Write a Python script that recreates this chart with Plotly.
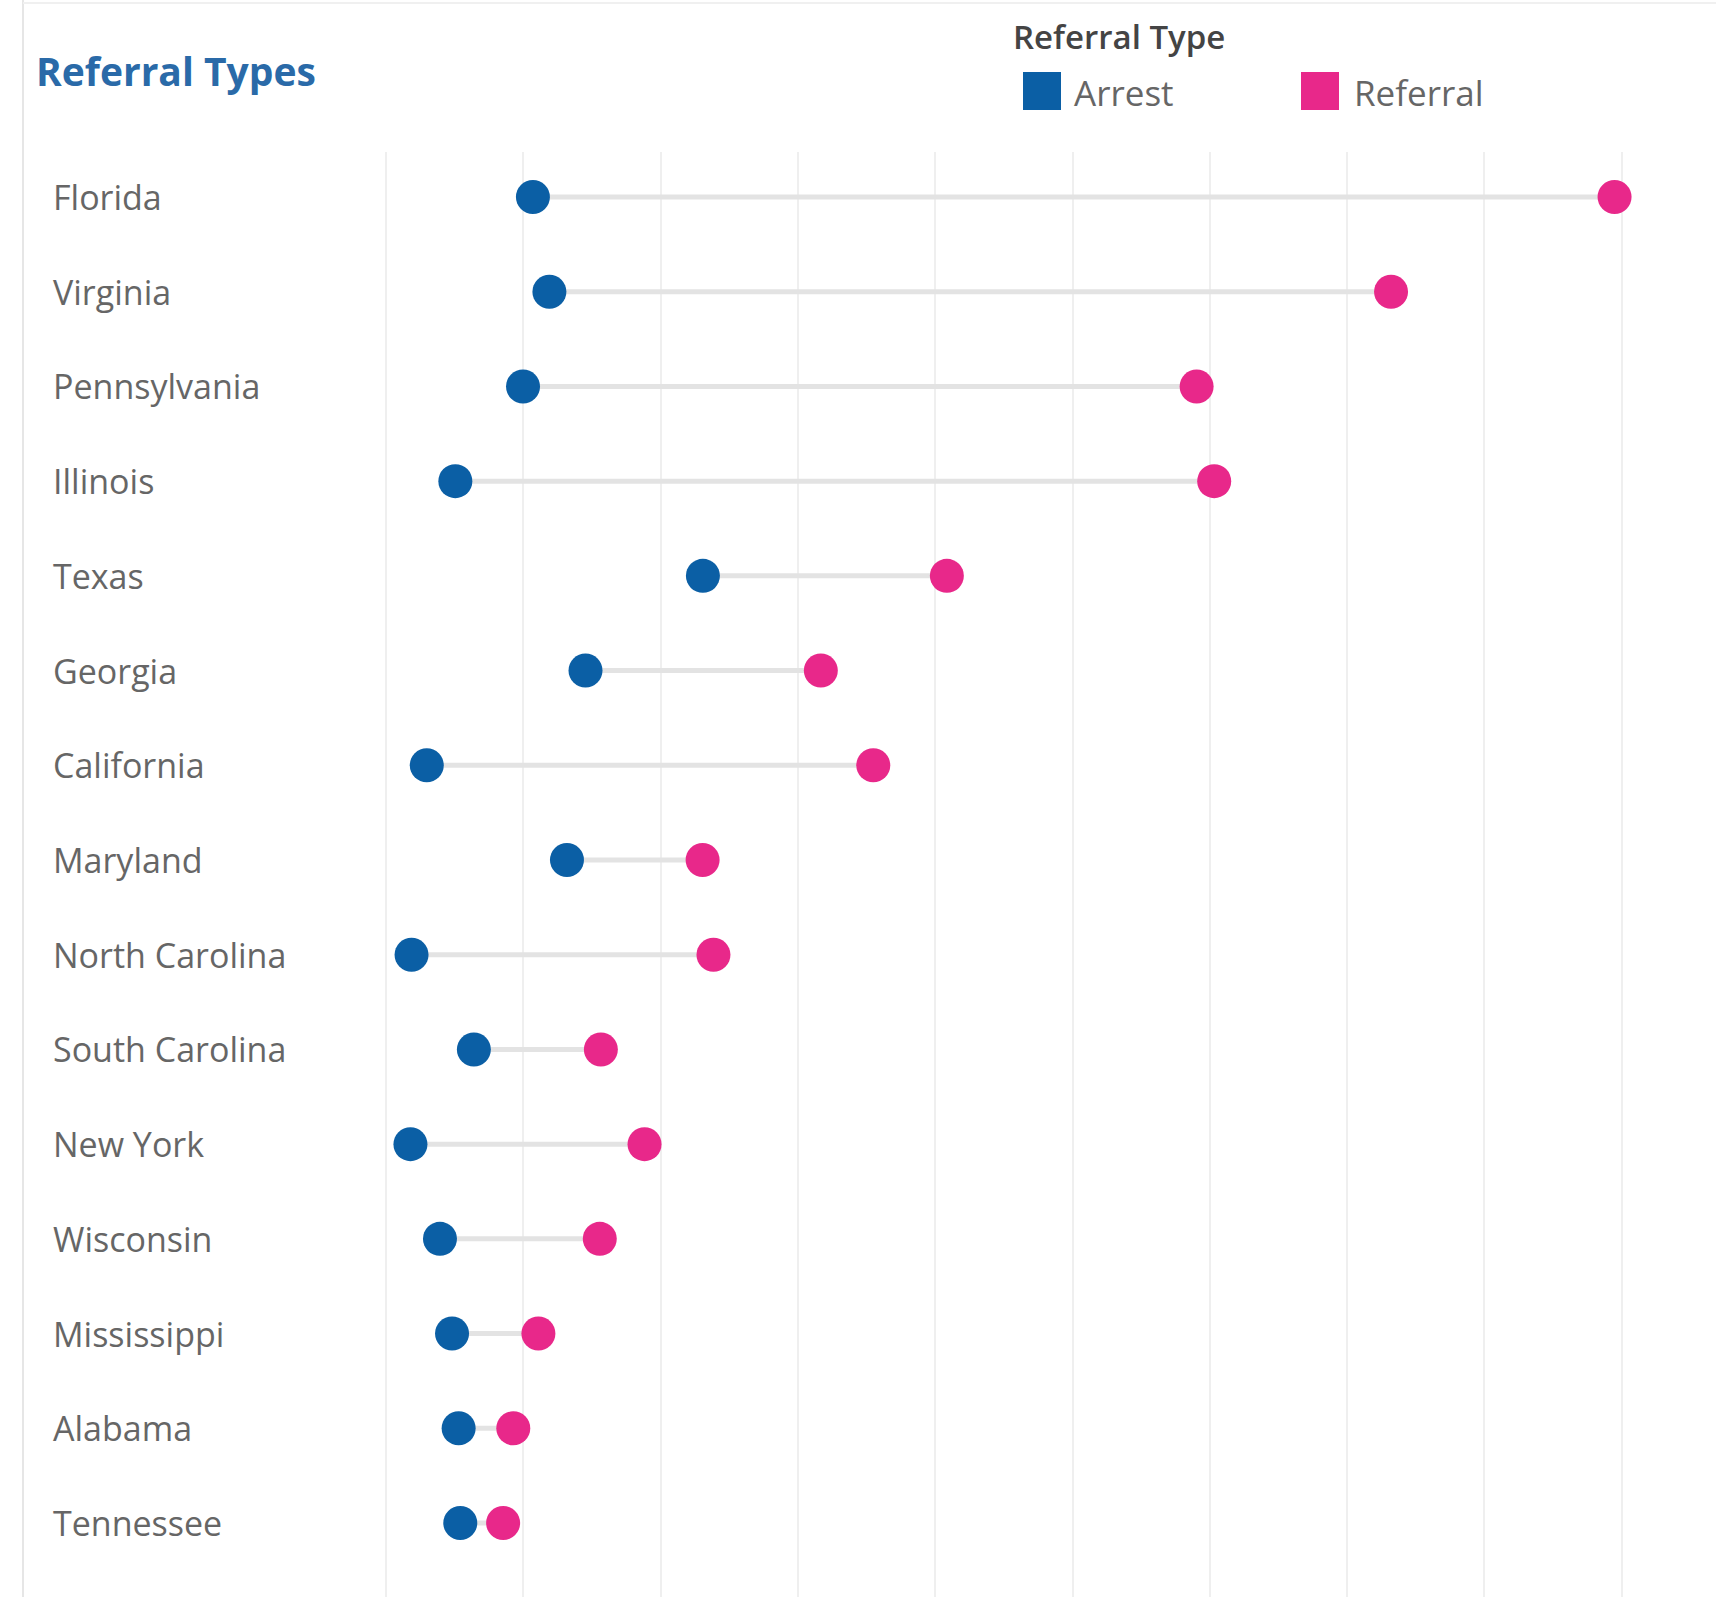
import plotly.graph_objects as go

states = ["Florida", "Virginia", "Pennsylvania", "Illinois", "Texas", "Georgia",
          "California", "Maryland", "North Carolina", "South Carolina", "New York",
          "Wisconsin", "Mississippi", "Alabama", "Tennessee"]
arrest = [1070, 1190, 998, 505, 2308, 1453, 297, 1318, 186, 640, 178, 393, 481, 529, 541]
referral = [8948, 7320, 5904, 6032, 4085, 3167, 3549, 2306, 2385, 1565, 1883, 1557, 1110, 927, 853]

legend_title = "Referral Type"
series_names = ["Arrest", "Referral"]
chart_title = "Referral Types"

BLUE = "#0b5fa5"
PINK = "#e8288a"
W, H = 1716, 1597
L, R, T, B = 370, 0, 152, 0
PW, PH = W - L - R, H - T - B
FONT = "Open Sans"


def px2x(px):
    return (px - L) / PW


def py2y(py):
    return 1 - (py - T) / PH


fig = go.Figure()

# connecting lines
lx, ly = [], []
for s, a, r in zip(states, arrest, referral):
    lx += [a, r, None]
    ly += [s, s, None]
fig.add_trace(go.Scatter(x=lx, y=ly, mode="lines",
                         line=dict(color="#e3e3e3", width=5),
                         hoverinfo="skip", showlegend=False))

fig.add_trace(go.Scatter(x=arrest, y=states, mode="markers", name=series_names[0],
                         marker=dict(color=BLUE, size=34, line=dict(width=0)),
                         showlegend=False))
fig.add_trace(go.Scatter(x=referral, y=states, mode="markers", name=series_names[1],
                         marker=dict(color=PINK, size=34, line=dict(width=0)),
                         showlegend=False))

unit = 137.3 / 1000.0
x0 = -(386 - L) / unit
x1 = x0 + PW / unit
n = len(states)
top_pad = (197 - T) / 94.72
fig.update_xaxes(range=[x0, x1], showgrid=True, gridcolor="#efefef", gridwidth=2,
                 dtick=1000, tick0=0, showticklabels=False, zeroline=False,
                 showline=False, ticks="")
fig.update_yaxes(type="category", categoryorder="array", categoryarray=states,
                 range=[n - 1 + (H - 1523) / 94.72, -top_pad],
                 showgrid=False, showticklabels=False, zeroline=False, showline=False)

annotations = []
for s in states:
    annotations.append(dict(x=px2x(51), xref="paper", y=s, yref="y", text=s,
                            xanchor="left", yanchor="middle", showarrow=False,
                            font=dict(family=FONT, size=34, color="#666666")))

annotations.append(dict(x=px2x(34), xref="paper", y=py2y(70), yref="paper",
                        text=chart_title, xanchor="left", yanchor="middle",
                        showarrow=False,
                        font=dict(family=FONT, size=39, color="#2a6aa8", weight=700)))
annotations.append(dict(x=px2x(1011), xref="paper", y=py2y(37), yref="paper",
                        text=legend_title, xanchor="left", yanchor="middle",
                        showarrow=False,
                        font=dict(family=FONT, size=33, color="#444444", weight=600)))
annotations.append(dict(x=px2x(1072), xref="paper", y=py2y(92), yref="paper",
                        text=series_names[0], xanchor="left", yanchor="middle",
                        showarrow=False, font=dict(family=FONT, size=35, color="#666666")))
annotations.append(dict(x=px2x(1352), xref="paper", y=py2y(92), yref="paper",
                        text=series_names[1], xanchor="left", yanchor="middle",
                        showarrow=False, font=dict(family=FONT, size=35, color="#666666")))

shapes = [
    dict(type="rect", xref="paper", yref="paper", x0=px2x(1023), x1=px2x(1061),
         y0=py2y(72), y1=py2y(110), fillcolor=BLUE, line=dict(width=0)),
    dict(type="rect", xref="paper", yref="paper", x0=px2x(1301), x1=px2x(1339),
         y0=py2y(72), y1=py2y(110), fillcolor=PINK, line=dict(width=0)),
    dict(type="line", xref="paper", yref="paper", x0=px2x(23), x1=px2x(23),
         y0=py2y(0), y1=py2y(H), line=dict(color="#e6e6e6", width=2)),
    dict(type="line", xref="paper", yref="paper", x0=px2x(23), x1=px2x(W),
         y0=py2y(3), y1=py2y(3), line=dict(color="#f0f0f0", width=2)),
]

fig.update_layout(width=W, height=H, margin=dict(l=L, r=R, t=T, b=B, pad=0),
                  paper_bgcolor="white", plot_bgcolor="white",
                  annotations=annotations, shapes=shapes, showlegend=False,
                  font=dict(family=FONT))

fig.write_html("out.html", config={"displayModeBar": False},
               post_script="document.body.style.margin='0';")
